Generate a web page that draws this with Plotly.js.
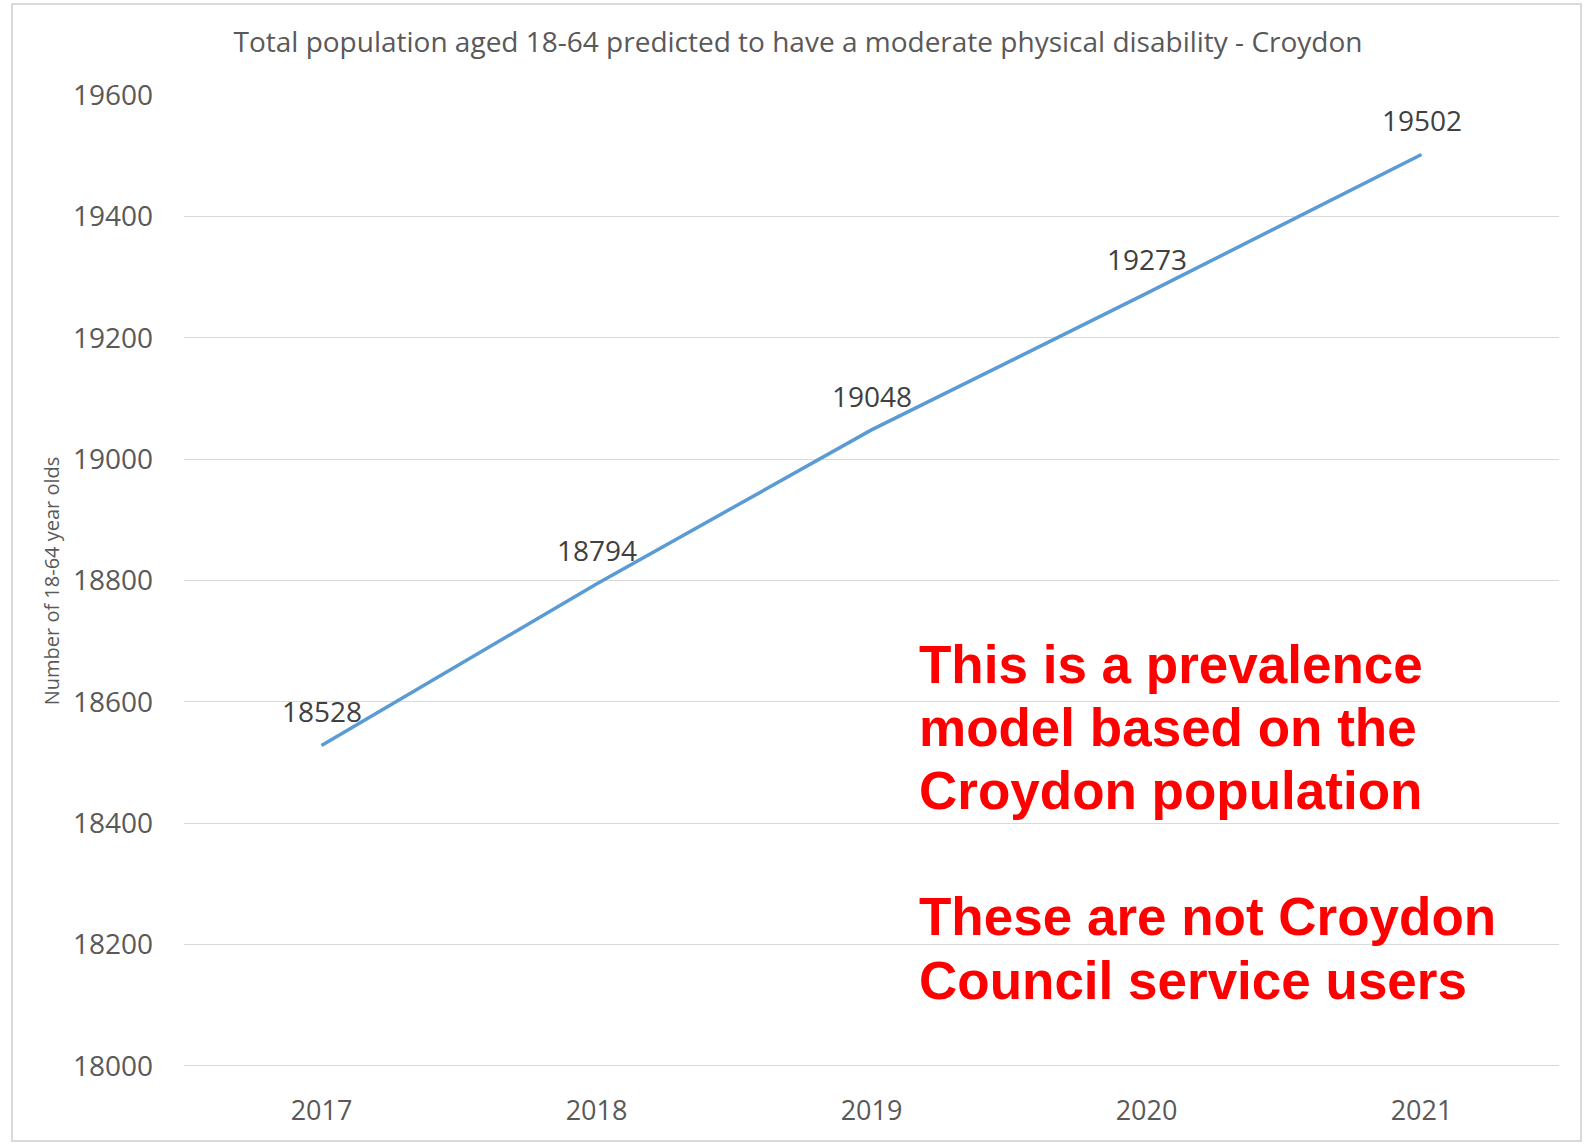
<!DOCTYPE html>
<html>
<head>
<meta charset="utf-8">
<script src="https://cdn.plot.ly/plotly-3.0.1.min.js"></script>
<style>html,body{margin:0;padding:0;background:#fff;}#chart{width:1584px;height:1144px;}</style>
</head>
<body>
<div id="chart"></div>
<script>
// ---- data ----
const years = ["2017", "2018", "2019", "2020", "2021"];
const population = [18528, 18794, 19048, 19273, 19502];
const yTicks = [18000, 18200, 18400, 18600, 18800, 19000, 19200, 19400, 19600];
const chartTitle = "Total population aged 18-64 predicted to have a moderate physical disability - Croydon";
const yTitle = "Number of 18-64 year olds";
const noteLines = ["This is a prevalence", "model based on the", "Croydon population", "", "These are not Croydon", "Council service users"];

// ---- layout geometry (px) ----
const W = 1584, H = 1144;
const plotL = 184, plotR = 1559, plotT = 95, plotB = 1067;
const plotW = plotR - plotL, plotH = plotB - plotT;
const px2x = p => (p - plotL) / plotW;
const px2y = p => (plotB - p) / plotH;

const trace = {
  x: years,
  y: population,
  type: "scatter",
  mode: "lines",
  line: {color: "#5B9BD5", width: 3.5},
  hoverinfo: "skip",
  showlegend: false
};

const annotations = [];
years.forEach((yr, i) => {
  annotations.push({
    x: i, y: population[i], xref: "x", yref: "y",
    text: String(population[i]), showarrow: false,
    yshift: 34, xanchor: "center", yanchor: "middle",
    font: {family: "Open Sans, sans-serif", size: 28, color: "#404040"}
  });
});
const noteTop = 664, noteStep = 63.2;
noteLines.forEach((t, i) => {
  if (!t) return;
  annotations.push({
    x: px2x(917), y: px2y(noteTop + i * noteStep), xref: "paper", yref: "paper",
    text: t, showarrow: false, xanchor: "left", yanchor: "middle",
    font: {family: "Liberation Sans, Arial, sans-serif", size: 53, color: "#FF0000", weight: "bold"}
  });
});

const layout = {
  width: W, height: H,
  paper_bgcolor: "#ffffff", plot_bgcolor: "#ffffff",
  margin: {l: plotL, r: W - plotR, t: plotT, b: H - plotB, pad: 0},
  title: {
    text: chartTitle,
    x: 798 / W, xref: "container", xanchor: "center",
    y: 1 - 42 / H, yref: "container", yanchor: "middle",
    font: {family: "Open Sans, sans-serif", size: 28, color: "#595959"}
  },
  xaxis: {
    type: "category",
    categoryorder: "array", categoryarray: years,
    range: [-0.5, years.length - 0.5], autorange: false,
    showgrid: false, showline: false, zeroline: false,
    ticks: "", ticklabelstandoff: 25,
    tickfont: {family: "Open Sans, sans-serif", size: 27, color: "#595959"},
    fixedrange: true
  },
  yaxis: {
    range: [17998, 19600], autorange: false,
    tickmode: "array", tickvals: yTicks, ticktext: yTicks.map(String),
    showgrid: true, gridcolor: "#D9D9D9", gridwidth: 1,
    showline: false, zeroline: false,
    ticks: "", ticklabelstandoff: 30,
    tickfont: {family: "Open Sans, sans-serif", size: 28, color: "#595959"},
    title: {text: yTitle, standoff: 7, font: {family: "Open Sans, sans-serif", size: 20, color: "#595959"}},
    fixedrange: true
  },
  shapes: [{
    type: "rect", xref: "paper", yref: "paper",
    x0: px2x(12), x1: px2x(1581), y0: px2y(1141), y1: px2y(4),
    line: {color: "#D9D9D9", width: 2}, fillcolor: "rgba(0,0,0,0)", layer: "below"
  }],
  annotations: annotations
};

Plotly.newPlot("chart", [trace], layout, {displayModeBar: false, staticPlot: true});
</script>
</body>
</html>
